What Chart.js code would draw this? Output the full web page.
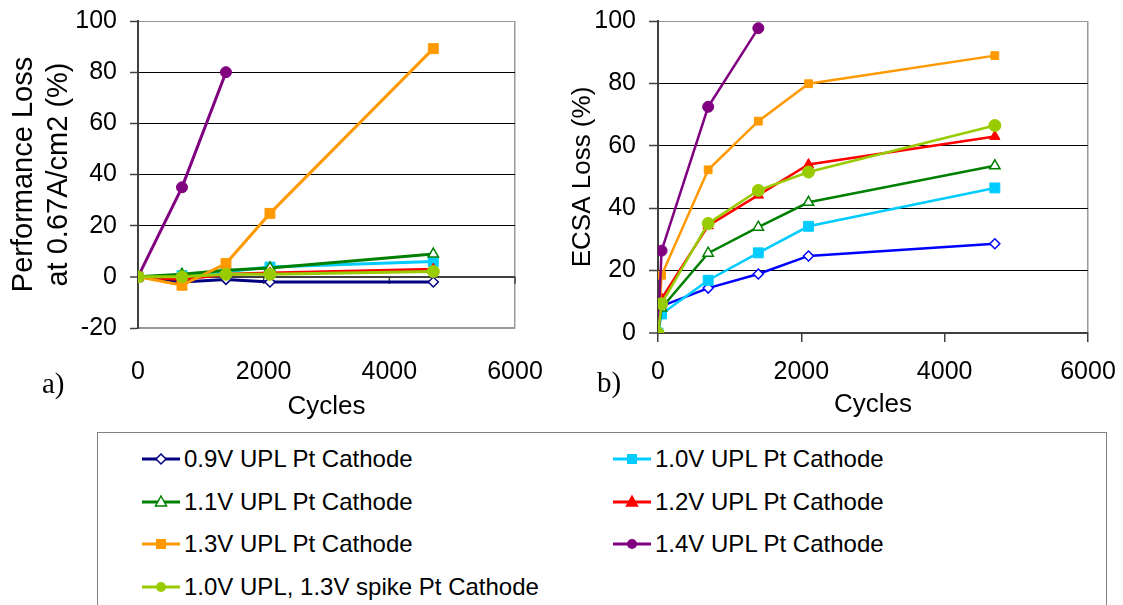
<!DOCTYPE html>
<html lang="en">
    <head>
        <meta charset="utf-8" />
        <title>Performance and ECSA loss vs cycles</title>
        <style>
            body { margin: 0; background: #fff; font-family: Arial, "Liberation Sans", sans-serif; overflow: hidden; }
            .box { position: absolute; top: 0; }
            .tag { position: absolute; font-family: "Times New Roman", "Liberation Serif", serif; font-size: 29px; line-height: 34px; color: #000; }
            #leyenda { position: absolute; left: 97px; top: 432px; width: 1010px; height: 200px; border: 1.5px solid #808080; box-sizing: border-box; }
            .item { position: absolute; display: flex; align-items: center; height: 30px; font-size: 24px; color: #000; white-space: nowrap; }
            .item svg { margin-right: 4px; }
        </style>
    </head>
    <body>
        <div class="box" style="left:0px"><canvas id="perf" width="560" height="430"></canvas></div>
        <div class="box" style="left:560px"><canvas id="ecsa" width="563" height="430"></canvas></div>
        <div class="tag" style="left:42px;top:366px">a)</div>
        <div class="tag" style="left:597px;top:365px">b)</div>
        <div id="leyenda"></div>

        <script src="https://cdn.jsdelivr.net/npm/chart.js@4.4.1/dist/chart.umd.min.js"></script>
        <script>
            // series names, as in the legend
            const names = [
                "0.9V UPL Pt Cathode",
                "1.0V UPL Pt Cathode",
                "1.1V UPL Pt Cathode",
                "1.2V UPL Pt Cathode",
                "1.3V UPL Pt Cathode",
                "1.4V UPL Pt Cathode",
                "1.0V UPL, 1.3V spike Pt Cathode"
            ];

            // a) performance loss at 0.67 A/cm2 (%)
            const perfCycles = [0, 700, 1400, 2100, 4700];
            const perf09 = [0, -2, -1, -2, -2];
            const perf10 = [0, 0.5, 2, 3.8, 6];
            const perf11 = [0, 1, 2.6, 3.5, 8.9];
            const perf12 = [0, -1, 1, 1.5, 3];
            const perf13 = [0, -3.3, 5.2, 24.8, 89.2];
            const perf14 = [0, 35, 80];
            const perfSpike = [0, 0, 1, 1, 2.1];

            // b) ECSA loss (%)
            const ecsaCycles = [0, 50, 700, 1400, 2100, 4700];
            const ecsa09 = [0, 8.6, 14.4, 18.9, 24.7, 28.6];
            const ecsa10 = [0, 6.1, 16.9, 25.7, 34.2, 46.5];
            const ecsa11 = [0, 8, 25.6, 33.9, 41.9, 53.6];
            const ecsa12 = [0, 11, 34.4, 44.2, 54, 63];
            const ecsa13 = [0, 18.5, 52.3, 67.9, 79.9, 88.9];
            const ecsa14 = [0, 26.4, 72.5, 97.7];
            const ecsaSpike = [0, 9.4, 35.1, 45.7, 51.6, 66.5];

            const xTicks = [0, 2000, 4000, 6000];
            const perfTicks = [-20, 0, 20, 40, 60, 80, 100];
            const ecsaTicks = [0, 20, 40, 60, 80, 100];

            // look of each series (left colour, right colour, marker)
            const colLeft = ["#000080", "#00ccff", "#008000", "#ff0000", "#ff9900", "#800080", "#99cc00"];
            const colRight = ["#0000ff", "#00ccff", "#008000", "#ff0000", "#ff9900", "#800080", "#99cc00"];
            const marks = ["rectRot", "rect", "triangle", "triangle", "rect", "circle", "circle"];
            const hollow = [true, false, true, false, false, false, false];
            const radLeft = [5, 7, 6, 6, 7, 5.5, 6];
            const radRight = [5, 7, 6, 6, 5.5, 5.5, 6];

            Chart.defaults.font.family = 'Arial, "Liberation Sans", sans-serif';
            Chart.defaults.color = "#000";

            function pts(xs, ys) {
                return ys.map((v, i) => ({ x: xs[i], y: v }));
            }

            function sets(xs, cols, rads, width, allVals) {
                return allVals.map((vals, i) => ({
                    label: names[i],
                    data: pts(xs, vals),
                    borderColor: cols[i],
                    backgroundColor: hollow[i] ? "#fff" : cols[i],
                    pointBorderColor: cols[i],
                    pointBackgroundColor: hollow[i] ? "#fff" : cols[i],
                    pointStyle: marks[i],
                    pointRadius: rads[i],
                    pointBorderWidth: hollow[i] ? 1.5 : 1,
                    borderWidth: width,
                    tension: 0,
                    order: allVals.length - i
                }));
            }

            const gray = "#9a9a9a";
            const dark = "#404040";
            const plain = (v) => String(v);
            // the plot box is placed by layout padding only, not by label overhang
            const noOverhang = (s) => { s.paddingLeft = 0; s.paddingRight = 0; s.paddingTop = 0; s.paddingBottom = 0; };

            // small tick marks on the zero line of chart a)
            const zeroTicks = {
                id: "zeroTicks",
                beforeDatasetsDraw(chart) {
                    const { ctx, scales } = chart;
                    const y0 = scales.y.getPixelForValue(0);
                    ctx.save();
                    ctx.strokeStyle = dark;
                    ctx.lineWidth = 1.5;
                    xTicks.slice(1).forEach((t) => {
                        const px = scales.x.getPixelForValue(t);
                        ctx.beginPath();
                        ctx.moveTo(px, y0);
                        ctx.lineTo(px, y0 + 7);
                        ctx.stroke();
                    });
                    ctx.restore();
                }
            };

            function xScale(padTicks, drawTicks, height, borderCol, borderW) {
                return {
                    type: "linear",
                    min: xTicks[0],
                    max: xTicks[xTicks.length - 1],
                    afterBuildTicks: (s) => { s.ticks = xTicks.map((v) => ({ value: v })); },
                    afterFit: (s) => { s.height = height; noOverhang(s); },
                    ticks: { font: { size: 25 }, padding: padTicks, color: "#000", callback: plain },
                    grid: {
                        drawTicks: drawTicks,
                        tickLength: 9,
                        tickColor: dark,
                        tickWidth: 1.5,
                        lineWidth: 1.5,
                        color: (c) => (c.tick && c.tick.value === 6000 ? gray : "rgba(0,0,0,0)")
                    },
                    border: { color: borderCol, width: borderW },
                    title: { display: true, text: "Cycles", font: { size: 26 }, color: "#000", padding: 0 }
                };
            }

            function yScale(ticks, width, tickLen, title, titleFont, titlePad) {
                return {
                    min: ticks[0],
                    max: ticks[ticks.length - 1],
                    afterBuildTicks: (s) => { s.ticks = ticks.map((v) => ({ value: v })); },
                    afterFit: (s) => { s.width = width; noOverhang(s); },
                    ticks: { font: { size: 25 }, padding: 13, color: "#000", callback: plain },
                    grid: {
                        tickLength: tickLen,
                        tickColor: dark,
                        tickWidth: 1.5,
                        color: (c) => {
                            const v = c.tick ? c.tick.value : null;
                            if (v === ticks[0] && v !== 0) return gray;
                            if (v === ticks[ticks.length - 1]) return gray;
                            if (v === 0) return dark;
                            return "#000";
                        },
                        lineWidth: (c) => (c.tick && c.tick.value === 0 ? 2 : 1)
                    },
                    border: { color: dark, width: 2 },
                    title: { display: true, text: title, font: { size: titleFont }, color: "#000", padding: { top: titlePad, bottom: 0 } }
                };
            }

            new Chart(document.getElementById("perf").getContext("2d"), {
                type: "line",
                data: {
                    datasets: sets(perfCycles, colLeft, radLeft, 3, [perf09, perf10, perf11, perf12, perf13, perf14, perfSpike])
                },
                options: {
                    responsive: false,
                    animation: false,
                    layout: { padding: { left: 0, top: 21, right: 45, bottom: 8 } },
                    plugins: { legend: { display: false }, tooltip: { enabled: false } },
                    scales: {
                        x: xScale(29, false, 94, gray, 1.5),
                        y: yScale(perfTicks, 138, 8, ["Performance Loss", "at 0.67A/cm2 (%)"], 29, 6.5)
                    }
                },
                plugins: [zeroTicks]
            });

            new Chart(document.getElementById("ecsa").getContext("2d"), {
                type: "line",
                data: {
                    datasets: sets(ecsaCycles, colRight, radRight, 2.5, [ecsa09, ecsa10, ecsa11, ecsa12, ecsa13, ecsa14, ecsaSpike])
                },
                options: {
                    responsive: false,
                    animation: false,
                    layout: { padding: { left: 0, top: 21, right: 35, bottom: 10 } },
                    plugins: { legend: { display: false }, tooltip: { enabled: false } },
                    scales: {
                        x: xScale(15, true, 87, dark, 2),
                        y: yScale(ecsaTicks, 98, 9, "ECSA Loss (%)", 26, 7)
                    }
                }
            });

            // legend below both charts
            const svgMark = (i) => {
                const c = colLeft[i];
                const fill = hollow[i] ? "#fff" : c;
                let m = "";
                if (marks[i] === "rectRot") m = `<polygon points="19,5 24,10 19,15 14,10" fill="${fill}" stroke="${c}" stroke-width="1.5"/>`;
                if (marks[i] === "rect") m = `<rect x="14" y="5" width="10" height="10" fill="${fill}"/>`;
                if (marks[i] === "triangle") m = `<polygon points="19,4 24.5,14 13.5,14" fill="${fill}" stroke="${c}" stroke-width="1.5"/>`;
                if (marks[i] === "circle") m = `<circle cx="19" cy="10" r="5" fill="${fill}"/>`;
                return `<svg width="38" height="20"><line x1="0" y1="10" x2="38" y2="10" stroke="${c}" stroke-width="3"/>${m}</svg>`;
            };
            const leyenda = document.getElementById("leyenda");
            names.forEach((n, i) => {
                const d = document.createElement("div");
                d.className = "item";
                d.style.left = (i % 2 === 0 ? 44 : 515) + "px";
                d.style.top = (11 + Math.floor(i / 2) * 42.7) + "px";
                d.innerHTML = svgMark(i) + "<span>" + n + "</span>";
                leyenda.appendChild(d);
            });
        </script>
    </body>
</html>
